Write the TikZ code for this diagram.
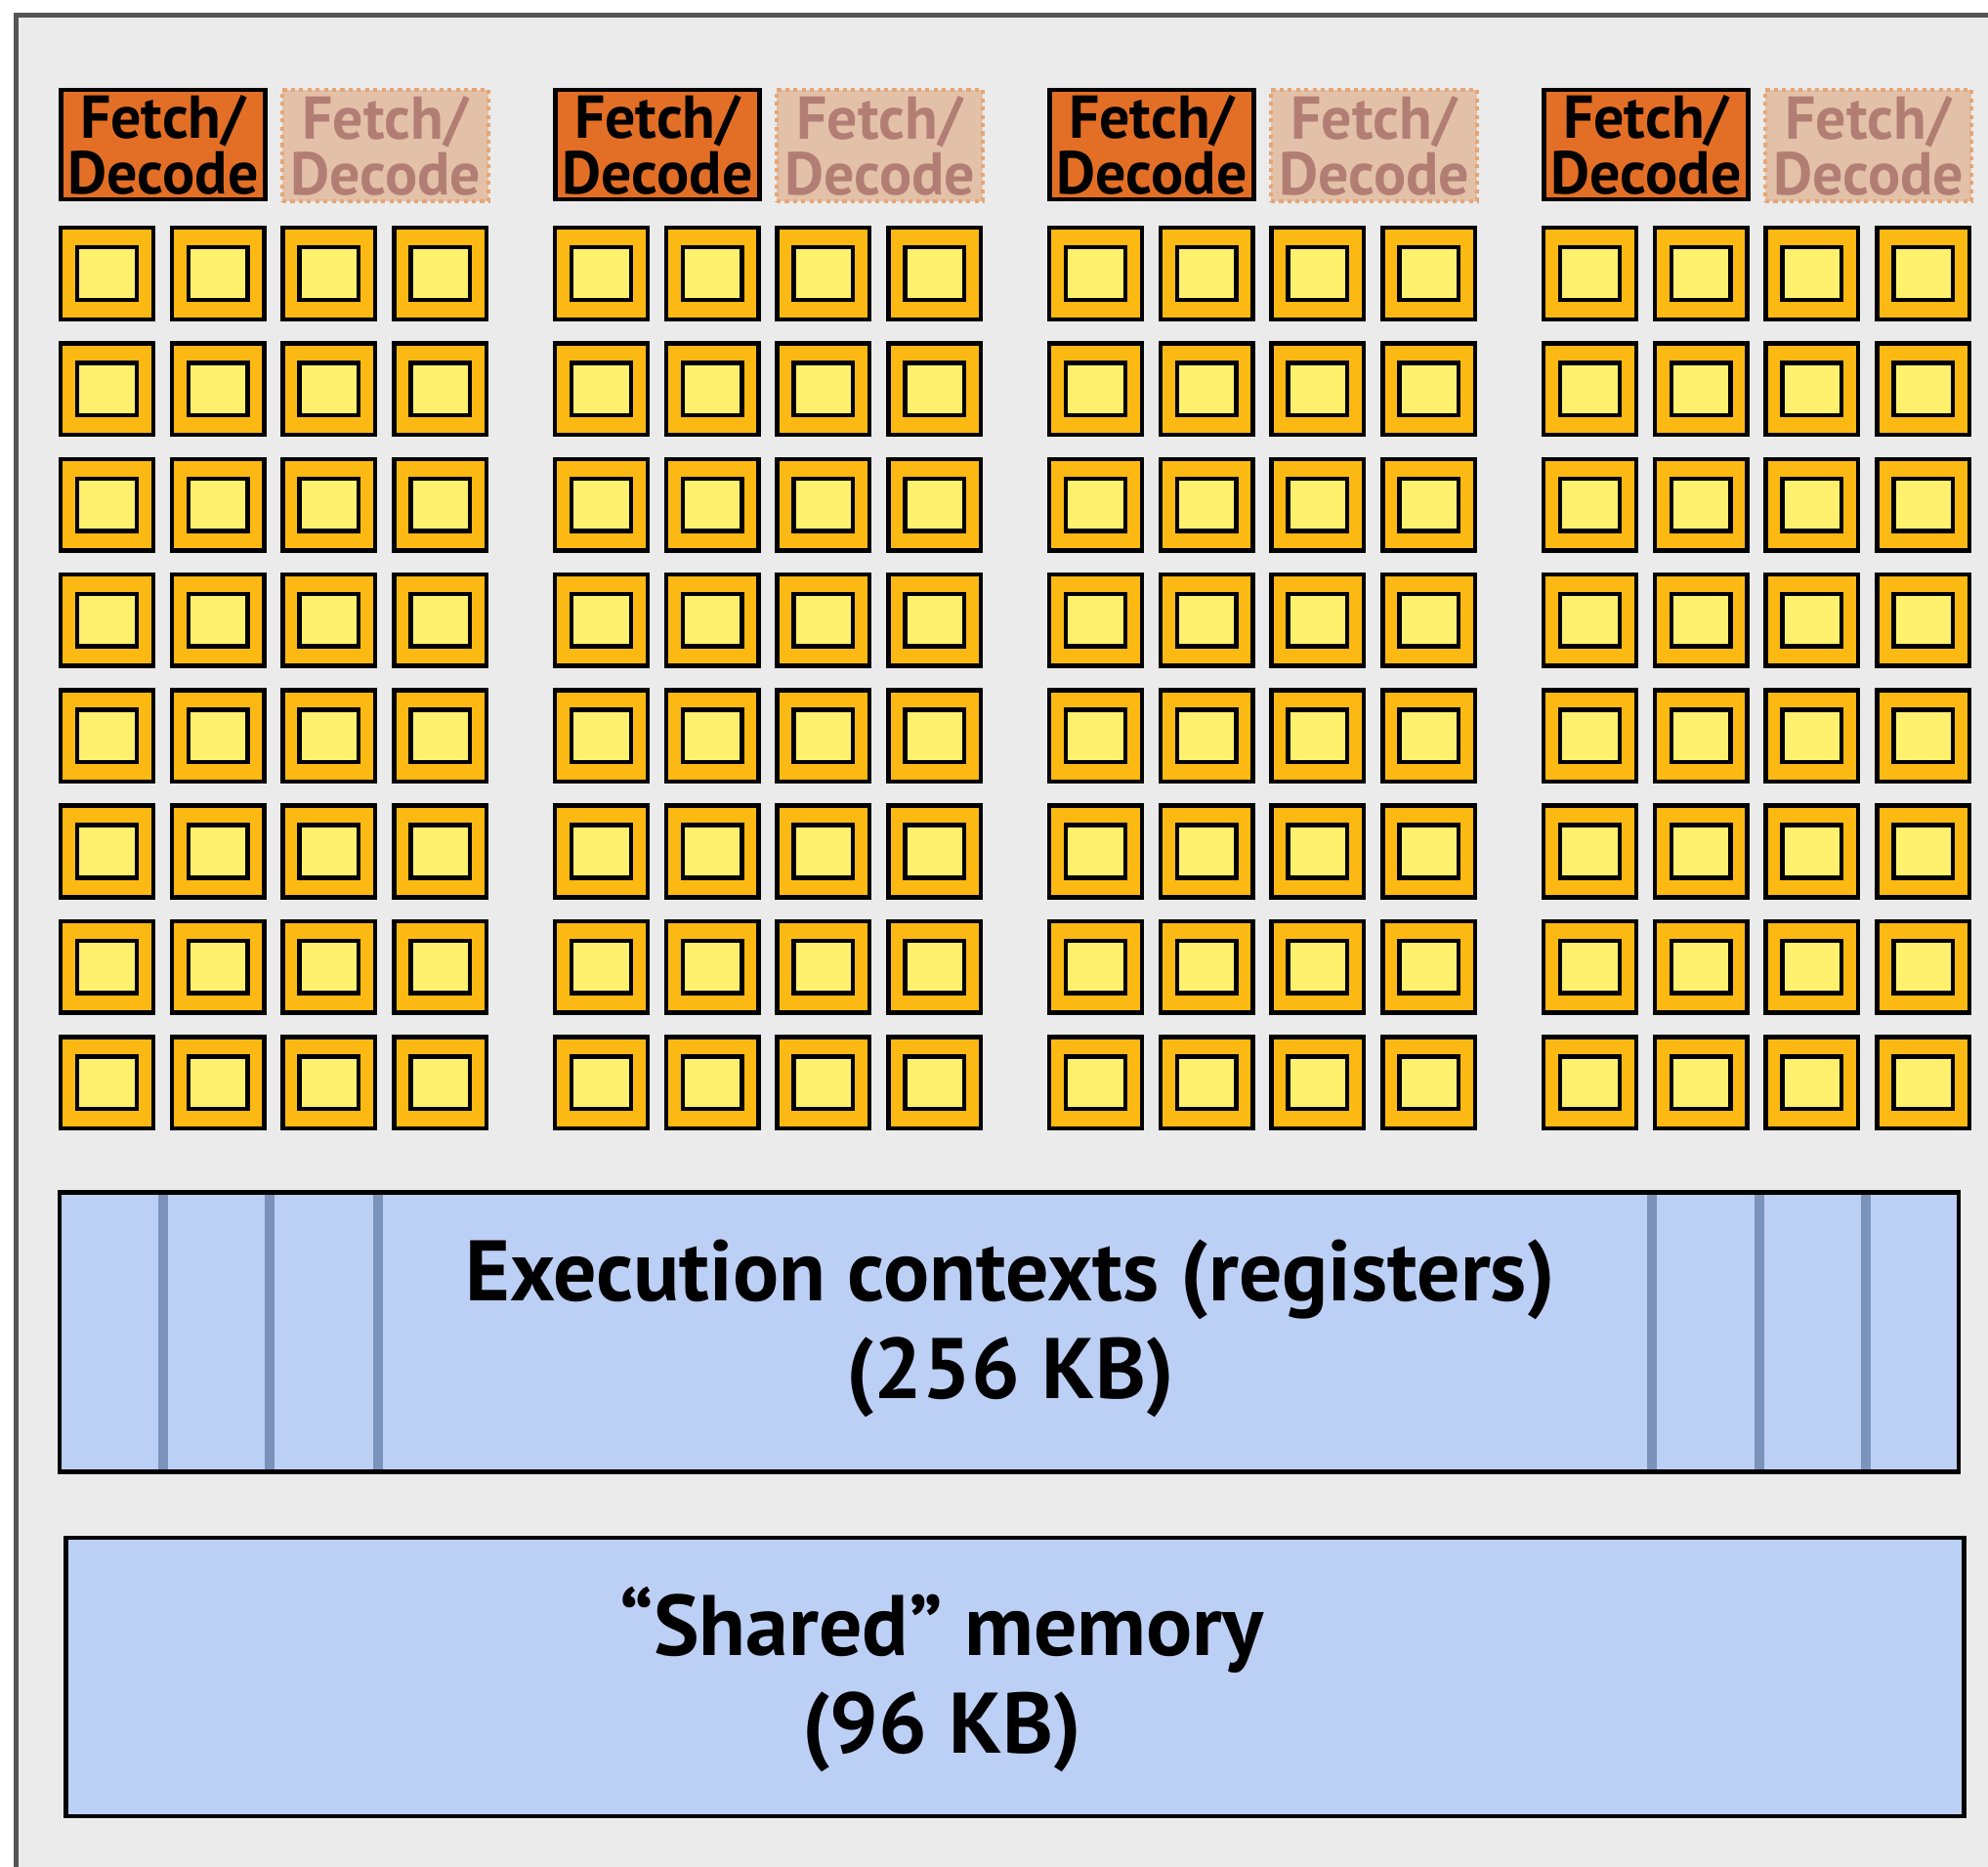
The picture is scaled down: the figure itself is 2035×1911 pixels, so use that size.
\documentclass[tikz,border=0pt]{standalone}
\usepackage{fontspec}
\setmainfont{PT Sans}
\definecolor{bggray}{HTML}{EBEBEB}
\definecolor{framegray}{HTML}{555555}
\definecolor{fetchorange}{HTML}{E36F26}
\definecolor{fetchofffill}{HTML}{E3C1A9}
\definecolor{fetchoffdraw}{HTML}{E4A676}
\definecolor{fetchofftext}{HTML}{B27E74}
\definecolor{coreout}{HTML}{FDB913}
\definecolor{corein}{HTML}{FFF06E}
\definecolor{memblue}{HTML}{BCCFF5}
\definecolor{divblue}{HTML}{7B93BB}
\tikzset{
  frameline/.style={draw=framegray, line width=1.42pt},
  core/.style={draw=black, fill=coreout, line width=1.28pt, rectangle, inner sep=0pt,
    minimum width=0.945cm, minimum height=0.935cm},
  coreinner/.style={draw=black, fill=corein, line width=1.28pt, rectangle, inner sep=0pt,
    minimum width=0.605cm, minimum height=0.535cm},
  fetch/.style={draw=black, fill=fetchorange, line width=1.28pt, rectangle, inner sep=0pt,
    minimum width=2.09cm, minimum height=1.115cm, align=center, text=black,
    font=\fontsize{17.6pt}{16.2pt}\selectfont\bfseries},
  fetchoff/.style={draw=fetchoffdraw, fill=fetchofffill, line width=1.2pt,
    dash pattern=on 1.2pt off 1.2pt, rectangle, inner sep=0pt,
    minimum width=2.11cm, minimum height=1.14cm, align=center, text=fetchofftext,
    font=\fontsize{17.6pt}{16.2pt}\selectfont\bfseries},
  membox/.style={fill=memblue, rectangle, inner sep=0pt},
  edge/.style={draw=black, line width=1.28pt},
  divider/.style={draw=divblue, line width=2.85pt},
  bigtext/.style={align=center, text=black, inner sep=0pt,
    font=\fontsize{25pt}{28.45pt}\selectfont\bfseries}
}
\begin{document}
\begin{tikzpicture}[x=0.01cm, y=-0.01cm]
\useasboundingbox (0,0) rectangle (2035,1911);
\fill[bggray] (16.5,15.5) rectangle (2035,1911);
\draw[frameline] (16.5,1911) -- (16.5,15.5) -- (2035,15.5);

% fetch / decode units
\foreach \g in {0,...,3} {
  \node[fetch] (fd-\g) at ({167+506*\g},148) {Fetch/\\Decode};
  \node[fetchoff] (fdx-\g) at ({394.5+506*\g},149) {Fetch/\\Decode};
}

% cores
\foreach \g in {0,...,3} {
  \foreach \c in {0,...,3} {
    \foreach \r in {0,...,7} {
      \node[core] (core-\g-\r-\c) at ({109.5+506*\g+113.7*\c},{280+118.3*\r}) {};
      \node[coreinner] (alu-\g-\r-\c) at (core-\g-\r-\c.center) {};
    }
  }
}

% execution contexts
\node[membox, minimum width=19.415cm, minimum height=2.845cm] (regs) at (1033,1363.5) {};
\foreach \x in {167,276,387,1691,1801,1910} {
  \draw[divider] (\x,0 |- regs.north) -- (\x,0 |- regs.south);
}
\draw[edge] (regs.north west) rectangle (regs.south east);
\node[bigtext] (regtext) at (1034,1360) {Execution contexts (registers)\\(256 KB)};

% shared memory
\node[membox, edge, minimum width=19.415cm, minimum height=2.845cm] (shmem) at (1039,1716.5) {};
\node[bigtext] (shtext) at (964,1719) {“Shared” memory\\(96 KB)};
\end{tikzpicture}
\end{document}
